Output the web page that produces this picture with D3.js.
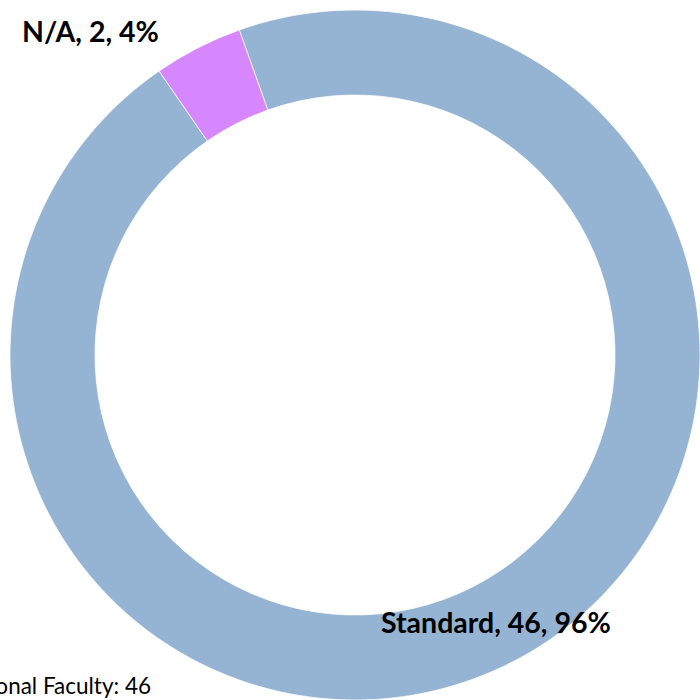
<!DOCTYPE html>
<html>
<head>
<meta charset="utf-8">
<script src="https://cdn.jsdelivr.net/npm/d3@7"></script>
<style>
  html, body { margin: 0; padding: 0; background: #fff; overflow: hidden; }
  svg { display: block; }
</style>
</head>
<body>
<svg id="chart" width="700" height="700"></svg>
<script>
// Faculty contract type breakdown
const categories = ["Standard", "N/A"];
const counts = [46, 2];
const percents = ["96%", "4%"];
const colors = ["#95B4D3", "#D787FD"];
const footnote = "Total Instructional Faculty: 46";

const svg = d3.select("#chart");
const cx = 355, cy = 355;
const outerR = 345, innerR = 260;

const pie = d3.pie()
  .sort(null)
  .value(d => d.count)
  .startAngle(-19.6 * Math.PI / 180)
  .endAngle((360 - 19.6) * Math.PI / 180);

const data = categories.map((c, i) => ({ name: c, count: counts[i], pct: percents[i], color: colors[i] }));
const arcs = pie(data);

const arc = d3.arc().innerRadius(innerR).outerRadius(outerR);

const g = svg.append("g").attr("transform", `translate(${cx},${cy})`);
g.selectAll("path")
  .data(arcs)
  .join("path")
  .attr("d", arc)
  .attr("fill", d => d.data.color)
  .attr("stroke", "#fff")
  .attr("stroke-width", 0.75);

// Slice labels
const labelPos = {
  "Standard": { x: 381, y: 633 },
  "N/A": { x: 22, y: 42 }
};
svg.selectAll("text.lbl")
  .data(arcs)
  .join("text")
  .attr("class", "lbl")
  .attr("x", d => labelPos[d.data.name].x)
  .attr("y", d => labelPos[d.data.name].y)
  .attr("font-family", "Lato, 'Open Sans', sans-serif")
  .attr("font-weight", "bold")
  .attr("font-size", 28.5)
  .attr("fill", "#000")
  .text(d => `${d.data.name}, ${d.data.count}, ${d.data.pct}`);

// Footnote, right-aligned so its start runs off the left edge
svg.append("text")
  .attr("x", 151)
  .attr("y", 694)
  .attr("text-anchor", "end")
  .attr("font-family", "Lato, 'Open Sans', sans-serif")
  .attr("font-size", 22.5)
  .attr("fill", "#000")
  .text(footnote);
</script>
</body>
</html>
